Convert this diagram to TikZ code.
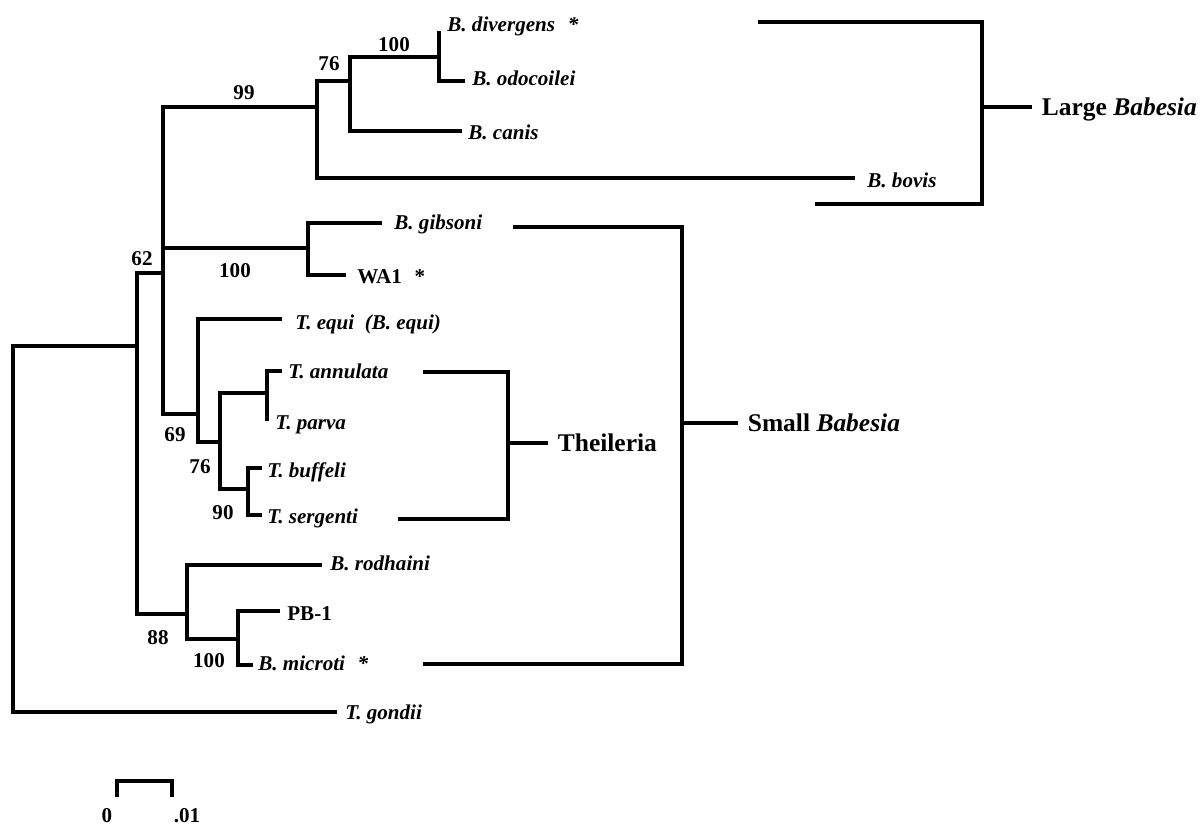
\documentclass[tikz,border=0pt]{standalone}
\usepackage{fontspec}
\setmainfont{Liberation Serif}
\usepackage{tikz}
\usetikzlibrary{positioning}

\begin{document}
\begin{tikzpicture}[
    x=0.02cm, y=-0.02cm,
    branch/.style={line width=0.08cm, line cap=rect, black},
    bracket/.style={line width=0.08cm, black},
    leaf/.style={anchor=base west, inner sep=0pt,
                 font=\fontsize{12}{14}\selectfont\bfseries\itshape},
    strain/.style={anchor=base west, inner sep=0pt,
                   font=\fontsize{12}{14}\selectfont\bfseries},
    boot/.style={anchor=base, inner sep=0pt,
                 font=\fontsize{12}{14}\selectfont\bfseries},
    clade/.style={anchor=west, inner xsep=0.19cm, inner ysep=0pt,
                  text height=9.6pt, text depth=0pt,
                  font=\fontsize{14.5}{17}\selectfont\bfseries}
]
\useasboundingbox (0,0) rectangle (1201,828);

% internal nodes
\coordinate (root)  at (13,346);
\coordinate (n62)   at (137,346);
\coordinate (nA)    at (163,273);
\coordinate (n99)   at (317,107);
\coordinate (n76)   at (350,81);
\coordinate (n100a) at (439,57);
\coordinate (n100b) at (308,248);
\coordinate (n69)   at (198,414);
\coordinate (n76b)  at (220,442);
\coordinate (nT)    at (267,393);
\coordinate (n90)   at (248,489);
\coordinate (n88)   at (187,614);
\coordinate (n100c) at (238,639);

% branch tips
\coordinate (tDiv) at (439,33);
\coordinate (tOdo) at (463,81);
\coordinate (tCan) at (460,131);
\coordinate (tBov) at (853,178);
\coordinate (tGib) at (380,223);
\coordinate (tWA)  at (344,275);
\coordinate (tEqu) at (280,319);
\coordinate (tAnn) at (280,371);
\coordinate (tPar) at (267,419);
\coordinate (tBuf) at (260,468);
\coordinate (tSer) at (260,515);
\coordinate (tRod) at (320,565);
\coordinate (tPB)  at (278,611);
\coordinate (tMic) at (251,665);
\coordinate (tGon) at (335,712);

\draw[branch] (n62) -- (root) |- (tGon);
\draw[branch] (n62) |- (nA) (n62) |- (n88);
\draw[branch] (nA) |- (n99) (nA) |- (n100b) (nA) |- (n69);
\draw[branch] (n99) |- (n76) (n99) |- (tBov);
\draw[branch] (n76) |- (n100a) (n76) |- (tCan);
\draw[branch] (n100a) -- (tDiv) (n100a) |- (tOdo);
\draw[branch] (n100b) |- (tGib) (n100b) |- (tWA);
\draw[branch] (n69) |- (tEqu) (n69) |- (n76b);
\draw[branch] (n76b) |- (nT) (n76b) |- (n90);
\draw[branch] (nT) |- (tAnn) (nT) -- (tPar);
\draw[branch] (n90) |- (tBuf) (n90) |- (tSer);
\draw[branch] (n88) |- (tRod) (n88) |- (n100c);
\draw[branch] (n100c) |- (tPB) (n100c) |- (tMic);

% taxa
\node[leaf] (div) at (447,32) {B. divergens\hspace{0.6em}*};
\node[leaf] (odo) at (472,86) {B. odocoilei};
\node[leaf] (can) at (468,140) {B. canis};
\node[leaf] (bov) at (867,188) {B. bovis};
\node[leaf] (gib) at (394,230) {B. gibsoni};
\node[strain] (wa1) at (357,283) {WA1\hspace{0.6em}*};
\node[leaf] (equ) at (295,329) {T. equi\hspace{0.5em}(B. equi)};
\node[leaf] (ann) at (288,378) {T. annulata};
\node[leaf] (par) at (275,429) {T. parva};
\node[leaf] (buf) at (267,477) {T. buffeli};
\node[leaf] (ser) at (267,523) {T. sergenti};
\node[leaf] (rod) at (330,570) {B. rodhaini};
\node[strain] (pb1) at (287,620) {PB-1};
\node[leaf] (mic) at (258,670) {B. microti\hspace{0.6em}*};
\node[leaf] (gon) at (345,719) {T. gondii};

% bootstrap values
\node[boot] (bs100a) at (394,52) {100};
\node[boot] (bs76a) at (329,71) {76};
\node[boot] (bs99) at (244,100) {99};
\node[boot] (bs62) at (142,265) {62};
\node[boot] (bs100b) at (235,277) {100};
\node[boot] (bs69) at (175,441) {69};
\node[boot] (bs76b) at (200,473) {76};
\node[boot] (bs90) at (223,519) {90};
\node[boot] (bs88) at (158,644) {88};
\node[boot] (bs100c) at (209,667) {100};

% groups
\coordinate (lgTop) at (758,22);
\coordinate (lgBot) at (815,204);
\coordinate (lgMid) at (982,107);
\node[clade] (large) at (1032,107) {Large \textit{Babesia}};
\draw[bracket] (lgTop) -| (lgMid) |- (lgBot) (lgMid) -- (large.west);

\coordinate (thTop) at (423,372);
\coordinate (thBot) at (398,519);
\coordinate (thMid) at (508,443);
\node[clade] (thei) at (548,443) {Theileria};
\draw[bracket] (thTop) -| (thMid) |- (thBot) (thMid) -- (thei.west);

\coordinate (smTop) at (513,227);
\coordinate (smBot) at (423,664);
\coordinate (smMid) at (682,423);
\node[clade] (small) at (738,423) {Small \textit{Babesia}};
\draw[bracket] (smTop) -| (smMid) |- (smBot) (smMid) -- (small.west);

% scale bar
\coordinate (sb0) at (117,795);
\coordinate (sb1) at (172,795);
\draw[branch] (sb0) -- (117,781) -- (172,781) -- (sb1);
\node[boot] (zero) at (107,822) {0};
\node[boot] (hund) at (187,822) {.01};
\end{tikzpicture}
\end{document}
